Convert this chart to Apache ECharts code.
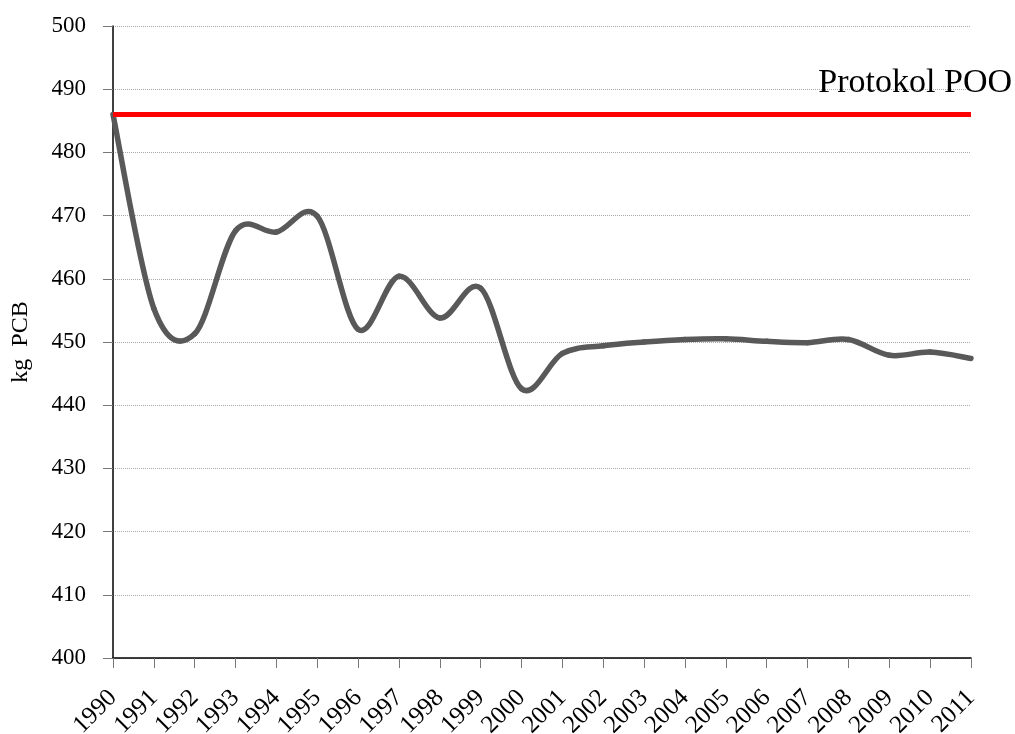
<!DOCTYPE html>
<html>
<head>
<meta charset="utf-8">
<script src="https://cdn.jsdelivr.net/npm/echarts@6/dist/echarts.min.js"></script>
<style>
  html, body { margin: 0; padding: 0; background: #fff; }
  #chart { width: 1015px; height: 734px; }
</style>
</head>
<body>
<div id="chart"></div>
<script>
// roky
const years = ['1990', '1991', '1992', '1993', '1994', '1995', '1996', '1997', '1998', '1999', '2000',
    '2001', '2002', '2003', '2004', '2005', '2006', '2007', '2008', '2009', '2010', '2011'];
// emise PCB v kg
const emissions = [486, 455.3, 451.3, 467.6, 467.4, 469.9, 452, 460.4, 453.8, 458.5, 442.6,
    448.2, 449.4, 450.0, 450.4, 450.5, 450.1, 449.9, 450.4, 447.9, 448.4, 447.4];
// limit podle protokolu
const protocolLimit = 486;
const protocolName = 'Protokol POO';

const font = '"Liberation Serif", "DejaVu Serif", serif';

// vyhlazena krivka (Catmull-Rom jako v Excelu), body pres osy grafu
const renderSmooth = (params, api) => {
    const i = params.dataIndex;
    const n = emissions.length;
    if (i >= n - 1) return null;
    const pt = (k) => {
        const j = Math.max(0, Math.min(n - 1, k));
        return api.coord([j, emissions[j]]);
    };
    const p0 = pt(i - 1), p1 = pt(i), p2 = pt(i + 1), p3 = pt(i + 2);
    return {
        type: 'bezierCurve',
        shape: {
            x1: p1[0], y1: p1[1],
            x2: p2[0], y2: p2[1],
            cpx1: p1[0] + (p2[0] - p0[0]) / 6,
            cpy1: p1[1] + (p2[1] - p0[1]) / 6,
            cpx2: p2[0] - (p3[0] - p1[0]) / 6,
            cpy2: p2[1] - (p3[1] - p1[1]) / 6
        },
        style: { stroke: '#595959', lineWidth: 5.5, fill: null, lineCap: 'round' }
    };
};

const mychart = echarts.init(document.getElementById('chart'));
const option = {
    animation: false,
    grid: {
        top: 26,
        left: 113,
        right: 44,
        bottom: 76,
        outerBoundsMode: 'none'
    },
    xAxis: {
        type: 'category',
        data: years,
        boundaryGap: false,
        axisLine: { show: true, lineStyle: { color: '#000', width: 1.5 } },
        axisTick: { show: true, length: 10, lineStyle: { color: '#777' } },
        axisLabel: {
            rotate: 45,
            interval: 0,
            margin: 36,
            color: '#000',
            fontFamily: font,
            fontSize: 25
        },
        splitLine: { show: false }
    },
    yAxis: {
        type: 'value',
        min: 400,
        max: 500,
        interval: 10,
        name: 'kg  PCB',
        nameLocation: 'middle',
        nameGap: 80,
        nameTextStyle: { color: '#000', fontFamily: font, fontSize: 24 },
        axisLine: { show: true, lineStyle: { color: '#000', width: 1.5 } },
        axisTick: { show: true, length: 10, lineStyle: { color: '#777' } },
        axisLabel: {
            margin: 27,
            color: '#000',
            fontFamily: font,
            fontSize: 23
        },
        splitLine: { show: true, lineStyle: { color: '#aaa', type: 'dotted', width: 1 } }
    },
    series: [
        {
            name: 'PCB',
            type: 'custom',
            coordinateSystem: 'cartesian2d',
            data: emissions.map((v, i) => [i, v]),
            encode: { x: 0, y: 1 },
            renderItem: renderSmooth,
            z: 3,
            markLine: {
                silent: true,
                symbol: 'none',
                lineStyle: { color: '#ff0000', width: 5, type: 'solid' },
                label: {
                    show: true,
                    position: 'insideEndTop',
                    formatter: protocolName,
                    color: '#000',
                    fontFamily: font,
                    fontSize: 34,
                    distance: [-41, 14]
                },
                data: [{ yAxis: protocolLimit }]
            }
        }
    ]
};
mychart.setOption(option);
</script>
</body>
</html>
